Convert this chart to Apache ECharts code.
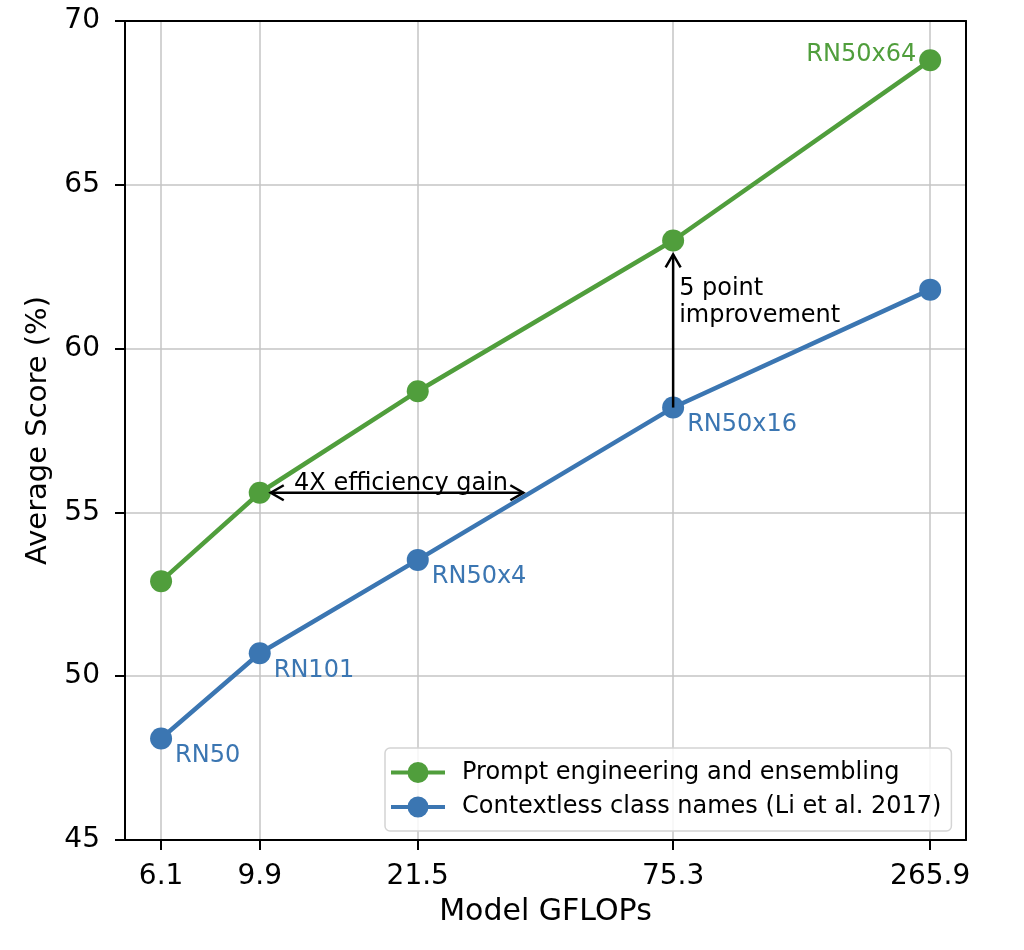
<!DOCTYPE html>
<html>
<head>
<meta charset="utf-8">
<script src="https://cdn.jsdelivr.net/npm/echarts@6/dist/echarts.min.js"></script>
<style>
  html, body { margin: 0; padding: 0; background: #fff; }
  #chart { width: 1024px; height: 950px; }
</style>
</head>
<body>
<div id="chart"></div>
<script>
// data
let gflops = [6.1, 9.9, 21.5, 75.3, 265.9]
let modelNames = ['RN50', 'RN101', 'RN50x4', 'RN50x16', 'RN50x64']
let promptScores = [52.9, 55.6, 58.7, 63.3, 68.8]
let contextlessScores = [48.1, 50.7, 53.55, 58.2, 61.8]
let yTicks = [45, 50, 55, 60, 65, 70]
// arrows: [x1, y1, x2, y2, double headed?]
let efficiencyArrow = [9.9, 55.6, 36.1, 55.6, 1]
let improvementArrow = [75.3, 58.2, 75.3, 63.3, 0]
let improvementTextAt = [75.3, 61.4]

let green = '#509e3c'
let blue = '#3b76b2'
let font = 'DejaVu Sans'
// line + dot legend glyph
let legendIcon = 'path://M0,8.5 h17 v4 h-17 Z M37,8.5 h17 v4 h-17 Z M16.5,10.5 a10.5,10.5 0 1,1 21,0 a10.5,10.5 0 1,1 -21,0 Z'

var chart = echarts.init(document.getElementById('chart'))

// open chevron arrow head at p, pointing along (ux, uy)
function head(p, ux, uy) {
    let back = 13, half = 7.5
    return {
        type: 'polyline',
        shape: { points: [
            [p[0] - ux * back - uy * half, p[1] - uy * back + ux * half],
            [p[0], p[1]],
            [p[0] - ux * back + uy * half, p[1] - uy * back - ux * half]
        ] },
        style: { stroke: '#000', lineWidth: 2.5, fill: null }
    }
}

function arrowItem(params, api) {
    let a = api.coord([api.value(0), api.value(1)])
    let b = api.coord([api.value(2), api.value(3)])
    let both = api.value(4) === 1
    let dx = b[0] - a[0], dy = b[1] - a[1]
    let len = Math.sqrt(dx * dx + dy * dy)
    let ux = dx / len, uy = dy / len
    // pull tips off the marker they point at
    let sa = both ? 11 : 0
    let sb = both ? 0 : 14
    let p1 = [a[0] + ux * sa, a[1] + uy * sa]
    let p2 = [b[0] - ux * sb, b[1] - uy * sb]
    let children = [{
        type: 'line',
        shape: { x1: p1[0], y1: p1[1], x2: p2[0], y2: p2[1] },
        style: { stroke: '#000', lineWidth: 2.5 }
    }, head(p2, ux, uy)]
    if (both) {
        children.push(head(p1, -ux, -uy))
        children.push({
            type: 'text',
            x: (p1[0] + p2[0]) / 2 + 4,
            y: p1[1] + 3,
            style: { text: '4X efficiency gain', font: '24px ' + font, fill: '#000', align: 'center', verticalAlign: 'bottom' }
        })
    }
    return { type: 'group', children: children }
}

function noteItem(params, api) {
    let p = api.coord([api.value(0), api.value(1)])
    return {
        type: 'text',
        x: p[0] + 6,
        y: p[1],
        style: {
            text: '5 point\nimprovement', font: '24px ' + font, fill: '#000',
            lineHeight: 27, align: 'left', verticalAlign: 'middle'
        }
    }
}

let frameAxis = {
    show: true,
    axisLine: { show: true, lineStyle: { color: '#000', width: 2 } },
    axisTick: { show: false }, axisLabel: { show: false }, splitLine: { show: false }
}

option = {
    animation: false,
    grid: { left: 125, top: 21, right: 58, bottom: 110 },
    legend: {
        left: 385, top: 748,
        orient: 'vertical',
        padding: [12.5, 10, 12, 6],
        itemWidth: 54, itemHeight: 21, itemGap: 10.5,
        backgroundColor: 'rgba(255,255,255,0.85)',
        borderColor: '#d4d4d4', borderWidth: 1.5, borderRadius: 5,
        textStyle: { fontFamily: font, fontSize: 24, color: '#000', padding: [0, 0, 0, 12] },
        data: [
            { name: 'Prompt engineering and ensembling', icon: legendIcon },
            { name: 'Contextless class names (Li et al. 2017)', icon: legendIcon }
        ]
    },
    xAxis: [{
        type: 'log', logBase: 10, min: 5.11, max: 317,
        name: 'Model GFLOPs', nameLocation: 'middle', nameGap: 57,
        nameTextStyle: { fontFamily: font, fontSize: 30, color: '#000' },
        axisLine: { show: true, lineStyle: { color: '#000', width: 2 } },
        axisTick: { show: true, customValues: gflops, length: 10, lineStyle: { color: '#000', width: 2 } },
        axisLabel: {
            customValues: gflops, margin: 23,
            fontFamily: font, fontSize: 28, color: '#000',
            formatter: v => String(Math.round(v * 10) / 10)
        },
        splitLine: { show: true, lineStyle: { color: '#c4c4c4', width: 1.5 } },
        minorTick: { show: false }, minorSplitLine: { show: false }
    }, Object.assign({ type: 'log', logBase: 10, min: 5.11, max: 317, position: 'top' }, frameAxis)],
    yAxis: [{
        type: 'value', min: 45, max: 70, interval: 5,
        name: 'Average Score (%)', nameLocation: 'middle', nameGap: 72,
        nameTextStyle: { fontFamily: font, fontSize: 29, color: '#000' },
        axisLine: { show: true, lineStyle: { color: '#000', width: 2 } },
        axisTick: { show: true, length: 10, lineStyle: { color: '#000', width: 2 } },
        axisLabel: { margin: 25, fontFamily: font, fontSize: 28, color: '#000', customValues: yTicks },
        splitLine: { show: true, lineStyle: { color: '#c4c4c4', width: 1.5 } }
    }, Object.assign({ type: 'value', min: 45, max: 70, position: 'right' }, frameAxis)],
    series: [{
        name: 'Prompt engineering and ensembling',
        type: 'line',
        data: gflops.map((g, i) => [g, promptScores[i]]),
        symbol: 'circle', symbolSize: 22,
        lineStyle: { color: green, width: 4.5 },
        itemStyle: { color: green },
        label: {
            show: true, position: 'left', distance: 3, offset: [0, -6],
            fontFamily: font, fontSize: 24, color: green,
            formatter: p => p.dataIndex === modelNames.length - 1 ? modelNames[p.dataIndex] : ''
        },
        z: 3
    }, {
        name: 'Contextless class names (Li et al. 2017)',
        type: 'line',
        data: gflops.map((g, i) => [g, contextlessScores[i]]),
        symbol: 'circle', symbolSize: 22,
        lineStyle: { color: blue, width: 4.5 },
        itemStyle: { color: blue },
        label: {
            show: true, position: 'right', distance: 3, offset: [0, 17],
            fontFamily: font, fontSize: 24, color: blue,
            formatter: p => p.dataIndex < modelNames.length - 1 ? modelNames[p.dataIndex] : ''
        },
        z: 3
    }, {
        type: 'custom',
        renderItem: arrowItem,
        encode: { x: [0, 2], y: [1, 3] },
        data: [efficiencyArrow, improvementArrow],
        silent: true,
        z: 4
    }, {
        type: 'custom',
        renderItem: noteItem,
        encode: { x: 0, y: 1 },
        data: [improvementTextAt],
        silent: true,
        z: 4
    }]
}

chart.setOption(option)
</script>
</body>
</html>
